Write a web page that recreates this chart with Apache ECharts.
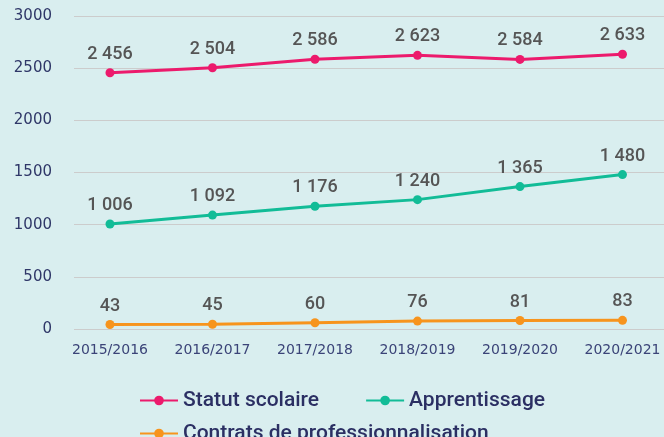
<!DOCTYPE html>
<html><head><meta charset="utf-8">
<script src="https://cdn.jsdelivr.net/npm/echarts@6/dist/echarts.min.js"></script>
<style>html,body{margin:0;padding:0;background:#d9eeef;}#c{width:664px;height:437px;}</style>
</head><body><div id="c"></div>
<script>
const categories = ['2015/2016','2016/2017','2017/2018','2018/2019','2019/2020','2020/2021'];
const statutScolaire = [2456, 2504, 2586, 2623, 2584, 2633];
const apprentissage = [1006, 1092, 1176, 1240, 1365, 1480];
const contrats = [43, 45, 60, 76, 81, 83];
const seriesNames = ['Statut scolaire', 'Apprentissage', 'Contrats de professionnalisation'];
const colors = ['#ec1a6c', '#12bc97', '#f7941d'];

const fmt = v => String(v).replace(/\B(?=(\d{3})+(?!\d))/g, ' ');
const toPts = arr => arr.map((v, i) => [i, v]);
const chart = echarts.init(document.getElementById('c'));
const mkSeries = (name, arr, color) => ({
  name, type: 'line', data: toPts(arr), color,
  symbol: 'circle', symbolSize: 9,
  lineStyle: { width: 3, color },
  itemStyle: { color },
  label: { show: true, position: 'top', distance: 5, formatter: p => fmt(p.value[1]),
    fontFamily: 'Roboto', fontSize: 18, fontWeight: 500, color: '#555555' }
});
const legendText = { fontFamily: 'Roboto', fontSize: 21, fontWeight: 500, color: '#2b2f63' };
chart.setOption({
  backgroundColor: '#d9eeef',
  animation: false,
  grid: { left: 74, right: 0, top: 16, bottom: 108, containLabel: false },
  xAxis: {
    type: 'value', min: -0.351, max: 5.405,
    axisLine: { show: false }, axisTick: { show: false }, splitLine: { show: false },
    axisLabel: { customValues: [0,1,2,3,4,5], formatter: v => categories[Math.round(v)],
      fontFamily: 'DejaVu Sans', fontSize: 14, color: '#3b4478', margin: 14 }
  },
  yAxis: {
    type: 'value', min: 0, max: 3000, interval: 500,
    axisLine: { show: false }, axisTick: { show: false },
    splitLine: { lineStyle: { color: '#cccccc', width: 1 } },
    axisLabel: { formatter: v => String(v), fontFamily: 'DejaVu Sans', fontSize: 15, color: '#2f3768', margin: 22 }
  },
  legend: [{
    left: 134, top: 385, itemGap: 46,
    itemWidth: 38, itemHeight: 12,
    textStyle: legendText,
    data: seriesNames.slice(0, 2)
  }, {
    left: 134, top: 418,
    itemWidth: 38, itemHeight: 12,
    textStyle: legendText,
    data: seriesNames.slice(2)
  }],
  series: [
    mkSeries(seriesNames[0], statutScolaire, colors[0]),
    mkSeries(seriesNames[1], apprentissage, colors[1]),
    mkSeries(seriesNames[2], contrats, colors[2])
  ]
});
</script></body></html>
